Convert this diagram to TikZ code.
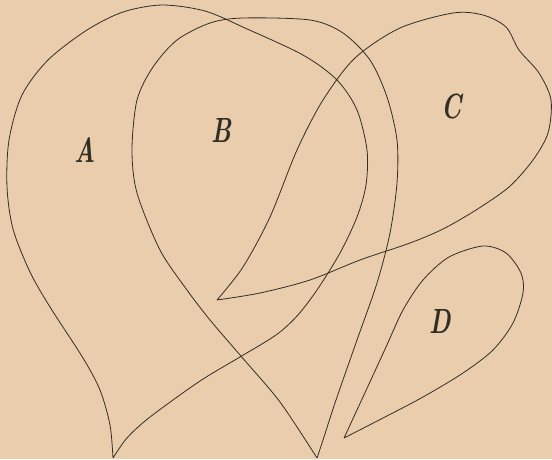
\documentclass[tikz,border=0pt]{standalone}
\usepackage{tikz}
\definecolor{paper}{RGB}{233,205,173}
\definecolor{ink}{RGB}{50,46,35}
\begin{document}
\begin{tikzpicture}[x=1pt,y=-1pt,
  curve/.style={draw=ink,line width=0.8pt,line join=round},
  lbl/.style={text=ink,font=\fontsize{35}{35}\selectfont\bfseries\itshape,xscale=0.7,inner sep=0pt}]
\fill[paper] (0,0) rectangle (552,459);
\useasboundingbox (0,0) rectangle (552,459);
\begin{scope}
\clip (0,0) rectangle (552,459);
% A
\draw[curve] plot[smooth,tension=0.5] coordinates {
 (113,458) (110,425) (100,390) (83,358) (50,307) (30,272) (13,229) (7,187) (9,140) (22,95) (48,60) (87,30) (123,12) (162,5) (205,11) (245,28) (303,55) (337,80) (357,110) (367,150) (366,185) (357,217) (340,253) (317,290) (297,316) (276,335) (240,357) (200,381) (150,417) (127,438) (113,458)};
% B
\draw[curve] plot[smooth,tension=0.5] coordinates {
 (317,458) (280,402) (240,355) (210,320) (187,290) (160,250) (137,193) (132,150) (137,100) (153,67) (177,40) (210,23) (243,18) (310,20) (343,33) (370,60) (387,97) (397,140) (397,183) (390,233) (377,283) (357,340) (336,400) (323,440) (317,458)};
% C
\draw[curve] plot[smooth,tension=0.5] coordinates {
 (217,300) (243,267) (270,217) (297,150) (323,100) (355,58) (400,28) (453,13) (483,15) (506,27) (519,50) (539,73) (551,100) (548,133) (533,160) (509,187) (476,210) (443,229) (410,243) (360,260) (310,280) (260,293) (217,300)};
% D
\draw[curve] plot[smooth,tension=0.5] coordinates {
 (344,438) (363,397) (386,347) (403,310) (423,280) (449,257) (483,246) (506,253) (521,273) (523,293) (513,323) (493,350) (463,373) (423,397) (383,418) (344,438)};
\end{scope}
\node[lbl] (lA) at (85,150) {A};
\node[lbl] (lB) at (222,130) {B};
\node[lbl] (lC) at (452,106) {C};
\node[lbl] (lD) at (440,321) {D};
\end{tikzpicture}
\end{document}
